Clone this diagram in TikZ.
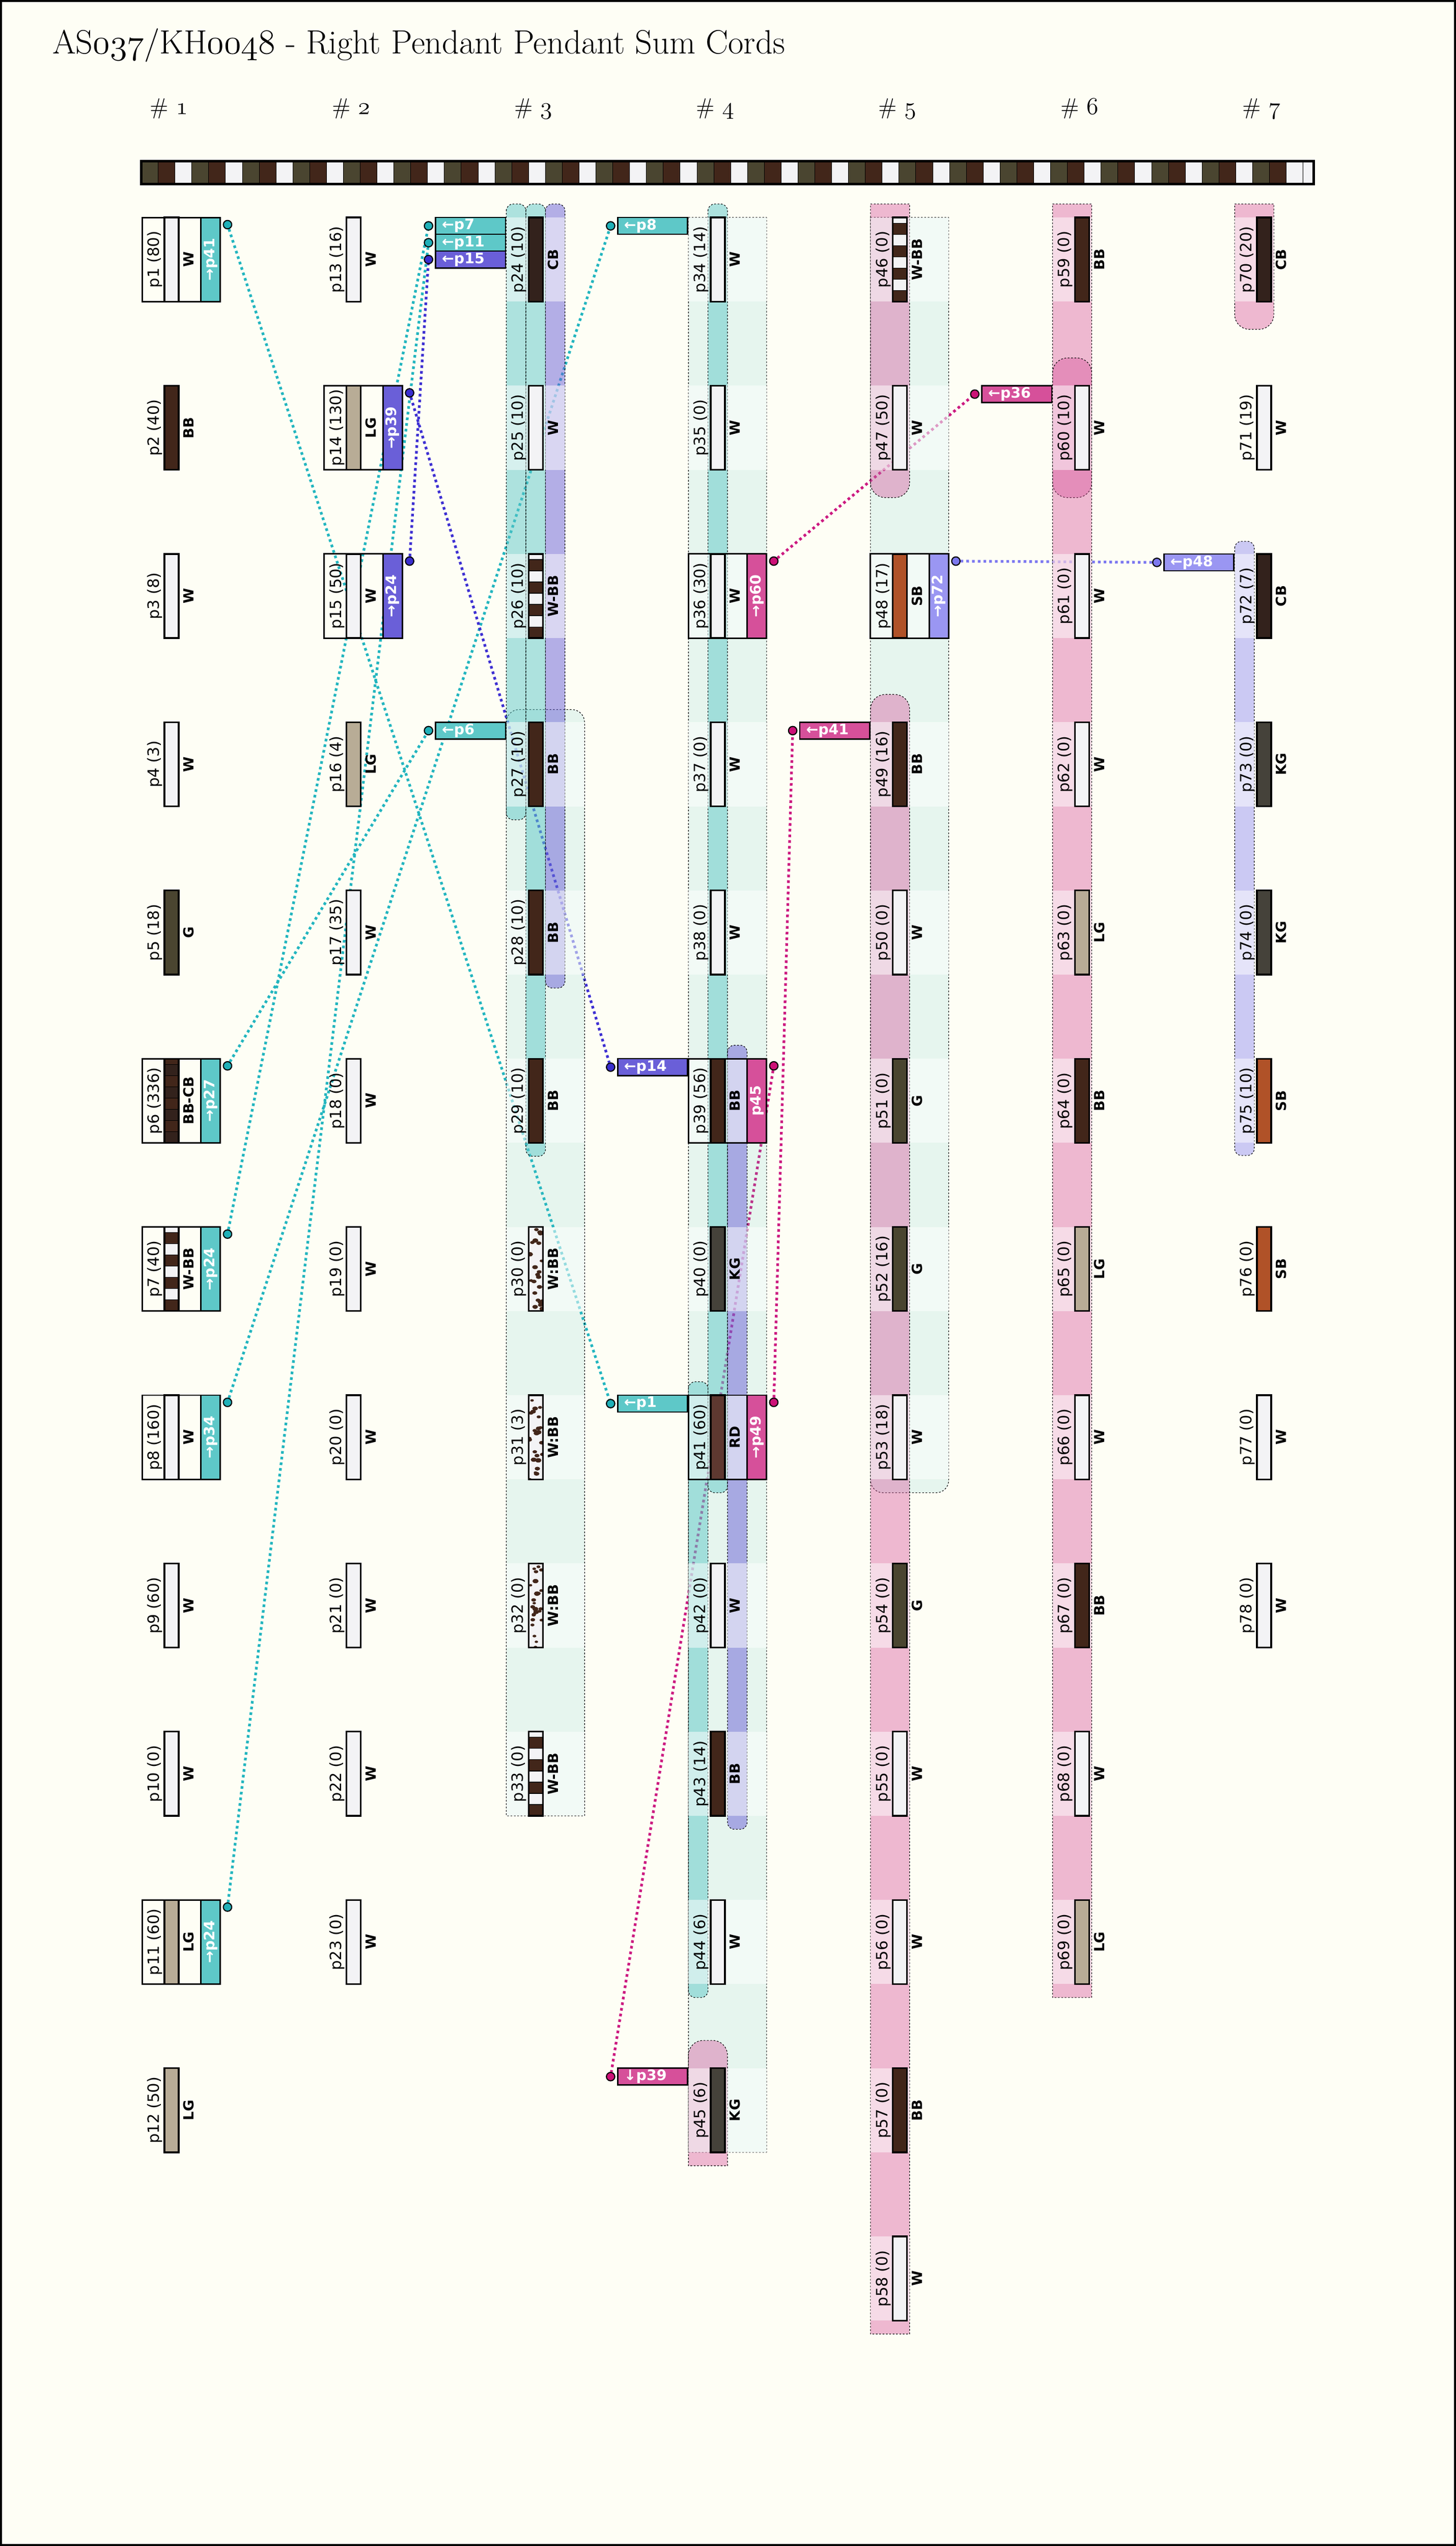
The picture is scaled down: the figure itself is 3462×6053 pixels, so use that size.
\documentclass[tikz,border=0pt]{standalone}
\usepackage{fontspec}
\newfontfamily\dvs{DejaVu Sans}
\newcommand\osf[1]{{\usefont{OML}{lmm}{m}{it}#1}}
\definecolor{ivory}{HTML}{FEFEF5}
\definecolor{cW}{HTML}{F3F3F5}
\definecolor{cBB}{HTML}{42261A}
\definecolor{cCB}{HTML}{33221C}
\definecolor{cLG}{HTML}{B8AC96}
\definecolor{cG}{HTML}{4A4530}
\definecolor{cKG}{HTML}{45423A}
\definecolor{cSB}{HTML}{B05228}
\definecolor{cRD}{HTML}{5E3830}
\definecolor{cyanCell}{HTML}{5EC8C8}
\definecolor{cyanLine}{HTML}{22B5BF}
\definecolor{cyanDot}{HTML}{20B0B8}
\definecolor{purpCell}{HTML}{6A5FD8}
\definecolor{purpLine}{HTML}{3D2FD2}
\definecolor{purpDot}{HTML}{3A2ECF}
\definecolor{magCell}{HTML}{D6509A}
\definecolor{magLine}{HTML}{CC1A80}
\definecolor{magDot}{HTML}{CC1177}
\definecolor{lavCell}{HTML}{9A96F2}
\definecolor{lavLine}{HTML}{7C78F0}
\definecolor{lavDot}{HTML}{7D79EE}
\pgfdeclarelayer{lzero}
\pgfdeclarelayer{lone}
\pgfdeclarelayer{ltwo}
\pgfdeclarelayer{lthree}
\pgfsetlayers{lzero,lone,ltwo,lthree,main}
% pendant with solid cord
\newcommand\pend[6]{%
  \pgfmathsetmacro\pxo{338+433*(#1-1)}%
  \pgfmathsetmacro\pyt{517+400*(#2-1)}%
  \node[strip, fill=#5] (p#3-cord) at (\pxo+70,\pyt+100) {};
  \node[plab] (p#3-lab) at (\pxo+30,\pyt+100) {p#3 (#4)};
  \node[clab] (p#3-col) at (\pxo+111,\pyt+100) {#6};
}
% pendant with striped cord (#5 top colour, #6 bottom colour)
\newcommand\pendS[7]{%
  \pgfmathsetmacro\pxo{338+433*(#1-1)}%
  \pgfmathsetmacro\pyt{517+400*(#2-1)}%
  \begin{scope}
    \clip (\pxo+53,\pyt) rectangle (\pxo+87,\pyt+200);
    \foreach \i/\cc in {0/#6,1/#5,2/#6,3/#5,4/#6,5/#5,6/#6,7/#5}{
      \pgfmathsetmacro\ya{\pyt+200-(\i+1)*26.667}
      \pgfmathsetmacro\yb{\pyt+200-\i*26.667}
      \filldraw[fill=\cc, draw=black, line width=0.35pt] (\pxo+53,\ya) rectangle (\pxo+87,\yb);
    }
  \end{scope}
  \node[strip] (p#3-cord) at (\pxo+70,\pyt+100) {};
  \node[plab] (p#3-lab) at (\pxo+30,\pyt+100) {p#3 (#4)};
  \node[clab] (p#3-col) at (\pxo+111,\pyt+100) {#7};
}
% pendant with mottled cord
\newcommand\pendM[6]{%
  \pgfmathsetmacro\pxo{338+433*(#1-1)}%
  \pgfmathsetmacro\pyt{517+400*(#2-1)}%
  \begin{scope}
    \fill[cW] (\pxo+53,\pyt) rectangle (\pxo+87,\pyt+200);
    \clip (\pxo+53,\pyt) rectangle (\pxo+87,\pyt+200);
    \pgfmathsetseed{#6}
    \foreach \k in {1,...,24}{
      \pgfmathsetmacro\bx{\pxo+53+rnd*34}
      \pgfmathsetmacro\by{\pyt+rnd*200}
      \pgfmathsetmacro\rr{4+rnd*3.5}
      \fill[cBB] (\bx,\by) ellipse [x radius=\rr, y radius=0.7*\rr];
    }
  \end{scope}
  \node[strip] (p#3-cord) at (\pxo+70,\pyt+100) {};
  \node[plab] (p#3-lab) at (\pxo+30,\pyt+100) {p#3 (#4)};
  \node[clab] (p#3-col) at (\pxo+111,\pyt+100) {#5};
}
% box with link cell and dot
\newcommand\linkbox[6]{%
  \pgfmathsetmacro\pxo{338+433*(#1-1)}%
  \pgfmathsetmacro\pyt{517+400*(#2-1)}%
  \draw[boxline] (\pxo,\pyt) rectangle (\pxo+186,\pyt+200);
  \node[linkcell, fill=#5] (p#3-link) at (\pxo+162.75,\pyt+100) {\rotatebox{90}{#4}};
  \node[dot, fill=#6] (p#3-dot) at (\pxo+203,\pyt+17) {};
}
% sum start label
\newcommand\sumlab[7]{%
  \pgfmathsetmacro\pxo{338+433*(#1-1)}%
  \pgfmathsetmacro\pyc{517+400*(#2-1)+40*#3+20}%
  \node[sumbox, fill=#5] (#7) at (\pxo-85,\pyc) {\makebox[34pt][l]{#4}};
  \node[dot, fill=#6] (#7-dot) at (\pxo-185,\pyc) {};
}
% band
\newcommand\band[8]{%
  \filldraw[fill=#7, fill opacity=#8, bandline]
   ({#1},{#3+#5}) .. controls ({#1},{#3+0.4477*#5}) and ({#1+0.4477*#5},{#3}) .. ({#1+#5},{#3})
   -- ({#2-#5},{#3}) .. controls ({#2-0.4477*#5},{#3}) and ({#2},{#3+0.4477*#5}) .. ({#2},{#3+#5})
   -- ({#2},{#4-#6}) .. controls ({#2},{#4-0.4477*#6}) and ({#2-0.4477*#6},{#4}) .. ({#2-#6},{#4})
   -- ({#1+#6},{#4}) .. controls ({#1+0.4477*#6},{#4}) and ({#1},{#4-0.4477*#6}) .. ({#1},{#4-#6})
   -- cycle;
}
% row overlay
\newcommand\ovl[3]{%
  \pgfmathsetmacro\pxo{338+433*(#1-1)}%
  \pgfmathsetmacro\pyt{517+400*(#2-1)}%
  \fill[white, opacity=0.5] (\pxo,\pyt) rectangle (\pxo+#3,\pyt+200);
}
\begin{document}
\begin{tikzpicture}[x=0.25pt,y=-0.25pt,
  plab/.style={font=\dvs\fontsize{9.25pt}{10pt}\selectfont, rotate=90, inner sep=0pt},
  clab/.style={font=\dvs\bfseries\fontsize{8.3pt}{9pt}\selectfont, rotate=90, inner sep=0pt},
  strip/.style={rectangle, draw=black, line width=1pt, minimum width=8.5pt, minimum height=50pt, inner sep=0pt},
  boxline/.style={draw=black, line width=0.9pt},
  linkcell/.style={rectangle, draw=black, line width=0.9pt, minimum width=11.625pt, minimum height=50pt, inner sep=0pt, text=white, font=\dvs\bfseries\fontsize{8.6pt}{9pt}\selectfont},
  dot/.style={circle, draw=black, line width=0.65pt, minimum size=5pt, inner sep=0pt},
  sumbox/.style={rectangle, draw=black, line width=0.8pt, minimum width=41.5pt, minimum height=10pt, inner sep=0pt, text=white, font=\dvs\bfseries\fontsize{8.6pt}{9pt}\selectfont},
  conn/.style={line width=1.6pt, dash pattern=on 1.6pt off 1.8pt},
  bandline/.style={draw=black, line width=0.35pt, dash pattern=on 1pt off 1pt},
  hdr/.style={anchor=base west, inner sep=0pt, font=\fontsize{13.5pt}{15pt}\selectfont}
]
\useasboundingbox (0,0) rectangle (3462,6053);
\begin{pgfonlayer}{lzero}
  \fill[ivory] (0,0) rectangle (3462,6053);
\end{pgfonlayer}
\draw[line width=1.1pt] (2.5,2.5) rectangle (3459.5,6050.5);

% title and headers
\node[anchor=base west, inner sep=0pt, font=\fontsize{20pt}{22pt}\selectfont] (title) at (124,128)
  {AS\osf{037}/KH\osf{0048} - Right Pendant Pendant Sum Cords};
\foreach \g in {1,...,7}{
  \node[hdr] (hdr\g) at ({338+433*(\g-1)+18},272) {\#~\osf{\g}};
}

% main cord
\foreach \k in {0,...,68}{
  \pgfmathtruncatemacro\m{mod(\k,3)}
  \ifcase\m \def\cc{cG}\or \def\cc{cBB}\or \def\cc{cW}\fi
  \filldraw[fill=\cc, draw=black, line width=0.3pt] ({336+40.04*\k},383) rectangle ({336+40.04*(\k+1)},438);
}
\filldraw[fill=cW, draw=black, line width=0.3pt] (3099,383) rectangle (3124,438);
\draw[line width=1.5pt] (336,383) rectangle (3124,438);

% group 1
\pend{1}{1}{1}{80}{cW}{W}
\pend{1}{2}{2}{40}{cBB}{BB}
\pend{1}{3}{3}{8}{cW}{W}
\pend{1}{4}{4}{3}{cW}{W}
\pend{1}{5}{5}{18}{cG}{G}
\pendS{1}{6}{6}{336}{cBB}{cCB}{BB-CB}
\pendS{1}{7}{7}{40}{cW}{cBB}{W-BB}
\pend{1}{8}{8}{160}{cW}{W}
\pend{1}{9}{9}{60}{cW}{W}
\pend{1}{10}{10}{0}{cW}{W}
\pend{1}{11}{11}{60}{cLG}{LG}
\pend{1}{12}{12}{50}{cLG}{LG}
% group 2
\pend{2}{1}{13}{16}{cW}{W}
\pend{2}{2}{14}{130}{cLG}{LG}
\pend{2}{3}{15}{50}{cW}{W}
\pend{2}{4}{16}{4}{cLG}{LG}
\pend{2}{5}{17}{35}{cW}{W}
\pend{2}{6}{18}{0}{cW}{W}
\pend{2}{7}{19}{0}{cW}{W}
\pend{2}{8}{20}{0}{cW}{W}
\pend{2}{9}{21}{0}{cW}{W}
\pend{2}{10}{22}{0}{cW}{W}
\pend{2}{11}{23}{0}{cW}{W}
% group 3
\pend{3}{1}{24}{10}{cCB}{CB}
\pend{3}{2}{25}{10}{cW}{W}
\pendS{3}{3}{26}{10}{cW}{cBB}{W-BB}
\pend{3}{4}{27}{10}{cBB}{BB}
\pend{3}{5}{28}{10}{cBB}{BB}
\pend{3}{6}{29}{10}{cBB}{BB}
\pendM{3}{7}{30}{0}{W:BB}{3}
\pendM{3}{8}{31}{3}{W:BB}{5}
\pendM{3}{9}{32}{0}{W:BB}{9}
\pendS{3}{10}{33}{0}{cW}{cBB}{W-BB}
% group 4
\pend{4}{1}{34}{14}{cW}{W}
\pend{4}{2}{35}{0}{cW}{W}
\pend{4}{3}{36}{30}{cW}{W}
\pend{4}{4}{37}{0}{cW}{W}
\pend{4}{5}{38}{0}{cW}{W}
\pend{4}{6}{39}{56}{cBB}{BB}
\pend{4}{7}{40}{0}{cKG}{KG}
\pend{4}{8}{41}{60}{cRD}{RD}
\pend{4}{9}{42}{0}{cW}{W}
\pend{4}{10}{43}{14}{cBB}{BB}
\pend{4}{11}{44}{6}{cW}{W}
\pend{4}{12}{45}{6}{cKG}{KG}
% group 5
\pendS{5}{1}{46}{0}{cW}{cBB}{W-BB}
\pend{5}{2}{47}{50}{cW}{W}
\pend{5}{3}{48}{17}{cSB}{SB}
\pend{5}{4}{49}{16}{cBB}{BB}
\pend{5}{5}{50}{0}{cW}{W}
\pend{5}{6}{51}{0}{cG}{G}
\pend{5}{7}{52}{16}{cG}{G}
\pend{5}{8}{53}{18}{cW}{W}
\pend{5}{9}{54}{0}{cG}{G}
\pend{5}{10}{55}{0}{cW}{W}
\pend{5}{11}{56}{0}{cW}{W}
\pend{5}{12}{57}{0}{cBB}{BB}
\pend{5}{13}{58}{0}{cW}{W}
% group 6
\pend{6}{1}{59}{0}{cBB}{BB}
\pend{6}{2}{60}{10}{cW}{W}
\pend{6}{3}{61}{0}{cW}{W}
\pend{6}{4}{62}{0}{cW}{W}
\pend{6}{5}{63}{0}{cLG}{LG}
\pend{6}{6}{64}{0}{cBB}{BB}
\pend{6}{7}{65}{0}{cLG}{LG}
\pend{6}{8}{66}{0}{cW}{W}
\pend{6}{9}{67}{0}{cBB}{BB}
\pend{6}{10}{68}{0}{cW}{W}
\pend{6}{11}{69}{0}{cLG}{LG}
% group 7
\pend{7}{1}{70}{20}{cCB}{CB}
\pend{7}{2}{71}{19}{cW}{W}
\pend{7}{3}{72}{7}{cCB}{CB}
\pend{7}{4}{73}{0}{cKG}{KG}
\pend{7}{5}{74}{0}{cKG}{KG}
\pend{7}{6}{75}{10}{cSB}{SB}
\pend{7}{7}{76}{0}{cSB}{SB}
\pend{7}{8}{77}{0}{cW}{W}
\pend{7}{9}{78}{0}{cW}{W}

% link boxes
\linkbox{1}{1}{1}{→p41}{cyanCell}{cyanDot}
\linkbox{1}{6}{6}{→p27}{cyanCell}{cyanDot}
\linkbox{1}{7}{7}{→p24}{cyanCell}{cyanDot}
\linkbox{1}{8}{8}{→p34}{cyanCell}{cyanDot}
\linkbox{1}{11}{11}{→p24}{cyanCell}{cyanDot}
\linkbox{2}{2}{14}{→p39}{purpCell}{purpDot}
\linkbox{2}{3}{15}{→p24}{purpCell}{purpDot}
\linkbox{4}{3}{36}{→p60}{magCell}{magDot}
\linkbox{4}{6}{39}{p45}{magCell}{magDot}
\linkbox{4}{8}{41}{→p49}{magCell}{magDot}
\linkbox{5}{3}{48}{→p72}{lavCell}{lavDot}

% sum start labels
\sumlab{3}{1}{0}{←p7}{cyanCell}{cyanDot}{L7}
\sumlab{3}{1}{1}{←p11}{cyanCell}{cyanDot}{L11}
\sumlab{3}{1}{2}{←p15}{purpCell}{purpDot}{L15}
\sumlab{3}{4}{0}{←p6}{cyanCell}{cyanDot}{L6}
\sumlab{4}{1}{0}{←p8}{cyanCell}{cyanDot}{L8}
\sumlab{4}{6}{0}{←p14}{purpCell}{purpDot}{L14}
\sumlab{4}{8}{0}{←p1}{cyanCell}{cyanDot}{L1}
\sumlab{4}{12}{0}{↓p39}{magCell}{magDot}{L39}
\sumlab{5}{4}{0}{←p41}{magCell}{magDot}{L41}
\sumlab{6}{2}{0}{←p36}{magCell}{magDot}{L36}
\sumlab{7}{3}{0}{←p48}{lavCell}{lavDot}{L48}

% connectors
\begin{pgfonlayer}{lone}
  \draw[conn, cyanLine] (p1-dot) -- (L1-dot);
  \draw[conn, cyanLine] (p6-dot) -- (L6-dot);
  \draw[conn, cyanLine] (p7-dot) -- (L7-dot);
  \draw[conn, cyanLine] (p8-dot) -- (L8-dot);
  \draw[conn, cyanLine] (p11-dot) -- (L11-dot);
  \draw[conn, purpLine] (p14-dot) -- (L14-dot);
  \draw[conn, purpLine] (p15-dot) -- (L15-dot);
  \draw[conn, magLine] (p36-dot) -- (L36-dot);
  \draw[conn, magLine] (p39-dot) -- (L39-dot);
  \draw[conn, magLine] (p41-dot) -- (L41-dot);
  \draw[conn, lavLine] (p48-dot) -- (L48-dot);
\end{pgfonlayer}

% bands
\begin{pgfonlayer}{ltwo}
  \band{1204}{1390}{1687}{4317}{30}{0.01}{cyanCell}{0.15}
  \band{1204}{1250.5}{485}{1949}{16}{16}{cyanCell}{0.5}
  \band{1250.5}{1297}{485}{2749}{16}{16}{cyanCell}{0.5}
  \band{1297}{1343.5}{485}{2349}{16}{16}{purpCell}{0.5}
  \band{1637}{1823}{517}{5117}{0.01}{0.01}{cyanCell}{0.15}
  \band{1683.5}{1730}{485}{3549}{16}{16}{cyanCell}{0.5}
  \band{1730}{1776.5}{2485}{4349}{16}{16}{purpCell}{0.5}
  \band{1637}{1683.5}{3285}{4749}{16}{16}{cyanCell}{0.5}
  \band{1637}{1730}{4851}{5149}{35}{0.01}{magCell}{0.4}
  \band{2070}{2256}{517}{3549}{0.01}{30}{cyanCell}{0.15}
  \band{2070}{2163}{485}{1183}{0.01}{35}{magCell}{0.4}
  \band{2070}{2163}{1651}{5549}{35}{0.01}{magCell}{0.4}
  \band{2503}{2596}{485}{1183}{0.01}{35}{magCell}{0.4}
  \band{2503}{2596}{851}{4749}{35}{0.01}{magCell}{0.4}
  \band{2936}{3029}{485}{783}{0.01}{35}{magCell}{0.4}
  \band{2936}{2982.5}{1287}{2747}{16}{16}{lavCell}{0.5}
\end{pgfonlayer}

% row overlays
\begin{pgfonlayer}{lthree}
  \foreach \r in {1,...,3}{\ovl{3}{\r}{139.5}}
  \foreach \r in {4,...,10}{\ovl{3}{\r}{186}}
  \foreach \r in {1,...,12}{\ovl{4}{\r}{186}}
  \foreach \r in {1,...,8}{\ovl{5}{\r}{186}}
  \foreach \r in {9,...,13}{\ovl{5}{\r}{93}}
  \foreach \r in {1,...,11}{\ovl{6}{\r}{93}}
  \ovl{7}{1}{93}
  \foreach \r in {3,...,6}{\ovl{7}{\r}{46.5}}
\end{pgfonlayer}
\end{tikzpicture}
\end{document}
